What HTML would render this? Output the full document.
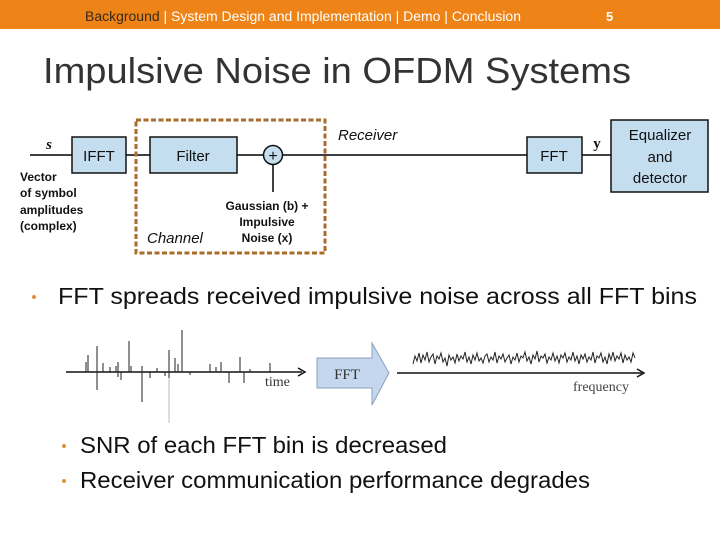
<!DOCTYPE html>
<html><head><meta charset="utf-8"><style>
body{margin:0;width:720px;height:540px;overflow:hidden;background:#fff;font-family:"Liberation Sans",sans-serif}
svg{position:absolute;left:0;top:0}
</style></head><body>
<svg width="720" height="540" viewBox="0 0 720 540" xmlns="http://www.w3.org/2000/svg" font-family="Liberation Sans, sans-serif">
<rect x="0" y="0" width="720" height="29" fill="#ee8417"/>
<text x="85" y="21" font-size="13.5" fill="#fff" textLength="436" lengthAdjust="spacingAndGlyphs"><tspan fill="#3a2a1a">Background</tspan> | System Design and Implementation | Demo | Conclusion</text>
<text x="606" y="21" font-size="13" font-weight="bold" fill="#fff">5</text>
<text x="43" y="83" font-size="36" fill="#333" textLength="588" lengthAdjust="spacingAndGlyphs">Impulsive Noise in OFDM Systems</text>

<g stroke="#000" stroke-width="1.5" fill="none">
<line x1="30" y1="155" x2="72" y2="155"/>
<line x1="126" y1="155" x2="150" y2="155"/>
<line x1="237" y1="155" x2="263" y2="155"/>
<line x1="283" y1="155" x2="527" y2="155"/>
<line x1="582" y1="155" x2="611" y2="155"/>
<line x1="273" y1="192" x2="273" y2="165"/>
</g>
<rect x="136" y="120" width="189" height="133" fill="none" stroke="#a86d2a" stroke-width="3" stroke-dasharray="5,2.5"/>
<g fill="#c4def0" stroke="#111" stroke-width="1.5">
<rect x="72" y="137" width="54" height="36"/>
<rect x="150" y="137" width="87" height="36"/>
<rect x="527" y="137" width="55" height="36"/>
<rect x="611" y="120" width="97" height="72"/>
<circle cx="273" cy="155" r="9.5"/>
</g>
<g font-size="15" fill="#111" text-anchor="middle">
<text x="99" y="161">IFFT</text>
<text x="193" y="161">Filter</text>
<text x="554" y="161">FFT</text>
<text x="660" y="140">Equalizer</text>
<text x="660" y="162">and</text>
<text x="660" y="183">detector</text>
<text x="273" y="161" font-size="16">+</text>
</g>
<text x="49" y="149" font-family="Liberation Serif, serif" font-weight="bold" font-size="15" font-style="italic" fill="#111" text-anchor="middle">s</text>
<text x="597" y="148" font-family="Liberation Serif, serif" font-weight="bold" font-size="15" fill="#111" text-anchor="middle">y</text>
<g font-size="12" font-weight="bold" fill="#111">
<text x="20" y="181">Vector</text>
<text x="20" y="197">of symbol</text>
<text x="20" y="214">amplitudes</text>
<text x="20" y="230">(complex)</text>
</g>
<g font-size="12" font-weight="bold" fill="#111" text-anchor="middle">
<text x="267" y="210">Gaussian (b) +</text>
<text x="267" y="226">Impulsive</text>
<text x="267" y="242">Noise (x)</text>
</g>
<text x="147" y="243" font-size="15" font-style="italic" fill="#111">Channel</text>
<text x="338" y="140" font-size="15" font-style="italic" fill="#111">Receiver</text>

<g fill="#e0903a">
<circle cx="34" cy="297" r="2"/>
<circle cx="64" cy="446" r="2"/>
<circle cx="64" cy="481" r="2"/>
</g>
<g font-size="23.5" fill="#111">
<text x="58" y="304" textLength="639" lengthAdjust="spacingAndGlyphs">FFT spreads received impulsive noise across all FFT bins</text>
<text x="80" y="453" textLength="367" lengthAdjust="spacingAndGlyphs">SNR of each FFT bin is decreased</text>
<text x="80" y="488" textLength="510" lengthAdjust="spacingAndGlyphs">Receiver communication performance degrades</text>
</g>

<line x1="66" y1="372" x2="302" y2="372" stroke="#111" stroke-width="1.5"/>
<path d="M298 368 L305 372 L298 376" fill="none" stroke="#111" stroke-width="1.5"/>
<g stroke="#222" stroke-width="1">
<line x1="86" y1="372" x2="86" y2="362"/><line x1="88" y1="372" x2="88" y2="355"/>
<line x1="97" y1="346" x2="97" y2="390"/><line x1="103" y1="372" x2="103" y2="363"/>
<line x1="110" y1="372" x2="110" y2="367"/><line x1="116" y1="372" x2="116" y2="366"/>
<line x1="118" y1="362" x2="118" y2="377"/><line x1="121" y1="372" x2="121" y2="380"/>
<line x1="129" y1="372" x2="129" y2="341"/><line x1="131" y1="372" x2="131" y2="366"/>
<line x1="142" y1="366" x2="142" y2="402"/><line x1="150" y1="372" x2="150" y2="378"/>
<line x1="157" y1="372" x2="157" y2="368"/><line x1="165" y1="372" x2="165" y2="376"/>
<line x1="169" y1="350" x2="169" y2="378"/><line x1="175" y1="372" x2="175" y2="358"/>
<line x1="178" y1="372" x2="178" y2="364"/><line x1="182" y1="372" x2="182" y2="330"/>
<line x1="190" y1="372" x2="190" y2="375"/><line x1="210" y1="372" x2="210" y2="364"/>
<line x1="216" y1="372" x2="216" y2="367"/><line x1="221" y1="372" x2="221" y2="362"/>
<line x1="229" y1="372" x2="229" y2="383"/><line x1="240" y1="372" x2="240" y2="357"/>
<line x1="244" y1="372" x2="244" y2="383"/><line x1="250" y1="372" x2="250" y2="369"/>
<line x1="270" y1="372" x2="270" y2="363"/>
</g>
<line x1="169" y1="378" x2="169" y2="423" stroke="#bbb" stroke-width="1"/>
<text x="265" y="386" font-family="Liberation Serif, serif" font-size="14" fill="#333">time</text>

<path d="M317 358 H372 V343 L389 373 L372 405 V388 H317 Z" fill="#c4d7ee" stroke="#8aa0bb" stroke-width="1"/>
<text x="347" y="379" font-family="Liberation Serif, serif" font-size="15" fill="#333" text-anchor="middle">FFT</text>

<line x1="397" y1="373" x2="642" y2="373" stroke="#111" stroke-width="1.5"/>
<path d="M637 369 L644 373 L637 377" fill="none" stroke="#111" stroke-width="1.5"/>
<polyline fill="none" stroke="#222" stroke-width="1" points="413,364 415,356 417,361 419,353 421,363 423,355 425,360 427,352 429,362 431,357 433,354 435,364 437,356 439,359 441,353 443,362 445,358 447,366 449,355 451,360 453,357 455,363 457,354 459,361 461,356 463,359 465,352 467,362 469,357 471,364 473,355 475,360 477,353 479,361 481,358 483,363 485,356 487,354 489,362 491,357 493,360 495,352 497,363 499,356 501,359 503,354 505,362 507,358 509,355 511,364 513,357 515,360 517,353 519,362 521,356 523,358 525,352 527,361 529,357 531,364 533,355 535,359 537,351 539,362 541,356 543,358 545,354 547,363 549,357 551,360 553,353 555,361 557,356 559,363 561,355 563,358 565,353 567,362 569,357 571,360 573,352 575,361 577,356 579,364 581,355 583,359 585,354 587,362 589,357 591,360 593,352 595,363 597,356 599,358 601,353 603,362 605,357 607,364 609,354 611,360 613,352 615,361 617,356 619,359 621,353 623,363 625,355 627,360 629,357 631,362 633,353 635,358"/>
<text x="573" y="391" font-family="Liberation Serif, serif" font-size="14" fill="#444">frequency</text>
</svg>
</body></html>
